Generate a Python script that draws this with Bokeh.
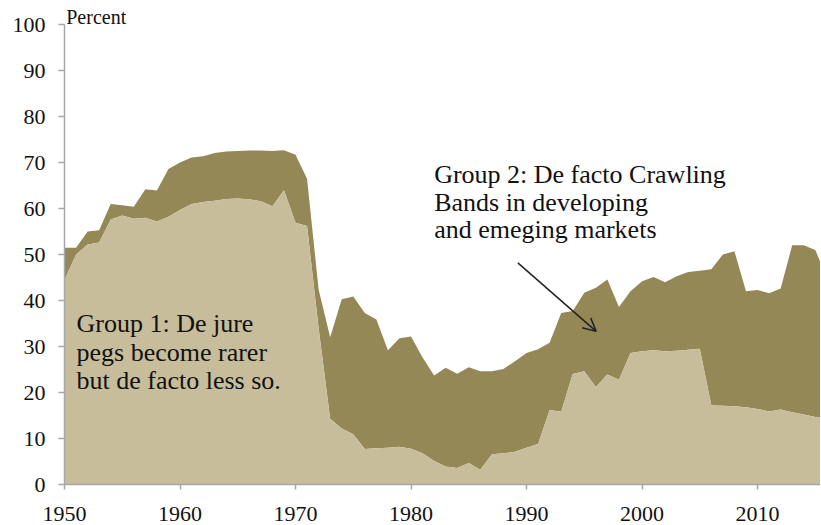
from bokeh.plotting import figure
from bokeh.models import ColumnDataSource, Label, Arrow, OpenHead, FixedTicker, Range1d
from bokeh.embed import file_html
from bokeh.resources import INLINE

years = list(range(1950, 2017))
total = [51.5, 51.5, 55.0, 55.3, 61.0, 60.7, 60.4, 64.2, 63.9, 68.6,
         70.0, 71.1, 71.4, 72.1, 72.4, 72.5, 72.6, 72.6, 72.5, 72.7,
         71.7, 66.5, 42.4, 32.0, 40.3, 40.9, 37.3, 35.9, 29.2, 31.8,
         32.2, 27.6, 23.7, 25.4, 24.1, 25.5, 24.6, 24.6, 25.1, 26.8,
         28.6, 29.4, 30.8, 37.3, 37.7, 41.7, 42.8, 44.6, 38.6, 42.0,
         44.2, 45.1, 44.0, 45.3, 46.2, 46.5, 46.8, 50.0, 50.7, 42.0,
         42.3, 41.6, 42.6, 52.0, 52.0, 51.0, 45.0]
group1 = [44.5, 50.0, 52.2, 52.6, 57.6, 58.5, 57.8, 58.0, 57.2, 58.2,
          59.7, 61.0, 61.4, 61.7, 62.1, 62.2, 62.0, 61.6, 60.5, 64.0,
          56.9, 56.2, 34.0, 14.3, 12.2, 10.9, 7.7, 7.9, 8.0, 8.2,
          7.8, 6.8, 5.1, 3.9, 3.6, 4.7, 3.2, 6.6, 6.8, 7.1,
          8.0, 8.8, 16.2, 15.8, 24.0, 24.6, 21.2, 23.9, 22.8, 28.6,
          29.0, 29.2, 29.0, 29.1, 29.3, 29.5, 17.2, 17.1, 17.0, 16.8,
          16.4, 15.9, 16.3, 15.7, 15.2, 14.7, 14.2]
y_ticks = [0, 10, 20, 30, 40, 50, 60, 70, 80, 90, 100]
x_ticks = [1950, 1960, 1970, 1980, 1990, 2000, 2010]

group1_text = ["Group 1: De jure", "pegs become rarer", "but de facto less so."]
group2_text = ["Group 2: De facto Crawling", "Bands in developing", "and emeging markets"]
y_label = "Percent"

FONT = "Liberation Serif"
LIGHT = "#c7bd9b"
DARK = "#958857"

src = ColumnDataSource(dict(year=years, total=total, group1=group1,
                            zero=[0] * len(years)))

p = figure(width=820, height=524, output_backend="svg", toolbar_location=None,
           x_range=Range1d(1950, 2015.45), y_range=Range1d(0, 103.5),
           min_border_left=64, min_border_right=0, min_border_top=8,
           min_border_bottom=40)
p.outline_line_color = None
p.xgrid.visible = False
p.ygrid.visible = False
p.background_fill_color = "white"
p.border_fill_color = "white"

p.varea(x="year", y1="group1", y2="total", source=src, fill_color=DARK)
p.varea(x="year", y1="zero", y2="group1", source=src, fill_color=LIGHT)

for ax in (p.xaxis[0], p.yaxis[0]):
    ax.axis_line_color = "#a6a6a6"
    ax.axis_line_width = 1.5
    ax.major_tick_line_color = "#a6a6a6"
    ax.major_tick_line_width = 1.5
    ax.major_tick_in = 0
    ax.major_tick_out = 6
    ax.minor_tick_line_color = None
    ax.major_label_text_font = FONT
    ax.major_label_text_font_size = "22px"
    ax.major_label_text_color = "#111111"

p.yaxis.ticker = FixedTicker(ticks=y_ticks)
p.yaxis.bounds = (0, 100)
p.xaxis.ticker = FixedTicker(ticks=x_ticks)
p.yaxis.major_label_standoff = 13
p.xaxis.major_label_standoff = 17
p.xaxis.major_label_text_line_height = 0.7
p.xaxis.major_tick_out = 5

SHIFT = 1.6
p.add_layout(Label(x=1950.15, y=100 + SHIFT, text=y_label, text_font=FONT,
                   text_font_size="20px", text_baseline="alphabetic",
                   text_color="#111111"))

g1_x, g1_y0, step1 = 1951.04, 33.3, 6.1
for i, t in enumerate(group1_text):
    p.add_layout(Label(x=g1_x, y=g1_y0 + SHIFT - i * step1, text=t, text_font=FONT,
                       text_font_size="26px", text_baseline="alphabetic",
                       text_color="#111111"))

g2_x, g2_y0, step2 = 1982.0, 65.7, 5.95
for i, t in enumerate(group2_text):
    p.add_layout(Label(x=g2_x, y=g2_y0 + SHIFT - i * step2, text=t, text_font=FONT,
                       text_font_size="26px", text_baseline="alphabetic",
                       text_color="#111111"))

p.add_layout(Arrow(x_start=1989.25, y_start=48.2, x_end=1996.03, y_end=33.3,
                   line_color="#222222", line_width=1.5,
                   end=OpenHead(size=13, line_color="#222222", line_width=1.5)))

open("out.html", "w").write(file_html(p, INLINE))
